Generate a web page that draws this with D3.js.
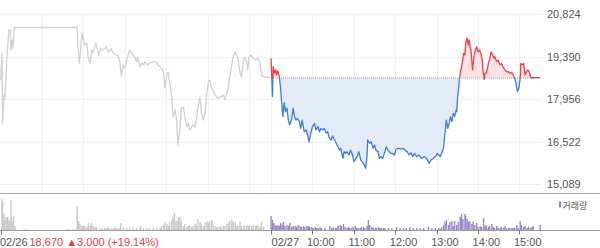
<!DOCTYPE html>
<html><head><meta charset="utf-8">
<script src="https://cdn.jsdelivr.net/npm/d3@7"></script>
<style>html,body{margin:0;padding:0;background:#fff;overflow:hidden}svg{display:block;font-family:"Liberation Sans",Arial,sans-serif}</style>
</head><body><svg id="c" width="600" height="248"></svg>
<script>
// ---- data ----
const prevClose = 18670;
const yTicks = [15089, 16522, 17956, 19390, 20824];
const timeTickLabels = ["10:00", "11:00", "12:00", "13:00", "14:00", "15:00"];
const dateLabels = ["02/26", "02/27"];
const priceText = "18,670 \u25B23,000 (+19.14%)";
const legendText = "거래량";

// minutes after 09:00, day 1 (02/26)
const day1Min = [0,2,3,5,6,9,12,14,15,17,18,20,111,112,114,116,118,120,122,125,127,130,132,134,138,142,145,149,153,156,160,163,167,170,173,175,178,180,184,187,190,192,195,197,199,202,204,207,209,213,216,221,225,228,232,236,238,241,243,245,248,250,253,255,257,260,262,265,267,270,272,274,277,279,282,284,286,289,291,294,296,299,301,303,306,308,311,313,315,318,320,323,325,328,330,332,335,337,340,342,344,347,349,352,354,357,358,360,363,366,370,373,376,378,381,386,390];
const day1Price = [18600,19510,17150,18100,17930,19270,20290,20290,19610,19950,19680,20370,20370,19720,19170,19610,20180,19950,19780,19850,19340,19170,19610,19510,19850,19440,19680,19610,19720,19540,19650,19510,19440,19440,19210,18740,19110,19010,19380,19610,19510,19440,19340,19210,19340,19040,19170,19110,19210,19110,19170,19210,19210,19110,19040,18870,18330,18770,18870,18500,18030,17350,17590,17250,16410,17020,17660,17690,17350,17020,17150,16920,17020,17090,17020,17320,17690,18030,17490,17250,17490,18160,18530,18600,18330,18260,18100,18030,17990,18030,18030,18100,17930,18160,18330,18700,19110,19380,19540,19440,19340,18840,18700,19270,19380,19170,18940,19380,19440,19340,19270,19340,19170,18770,18700,18700,18670];

// minutes after 09:00, day 2 (02/27)
const day2Min = [0,2,3,5,7,8,10,12,14,15,17,19,21,23,25,27,30,32,34,36,38,41,43,45,48,51,53,55,58,60,63,65,68,70,72,75,77,80,82,84,87,89,92,94,97,99,101,104,106,108,110,113,115,118,120,123,125,127,130,132,135,137,139,140,143,145,148,150,152,155,157,159,162,164,167,169,171,174,176,179,181,184,188,192,194,197,200,203,205,208,211,214,218,222,226,229,232,235,239,241,245,247,250,251,253,254,256,258,260,262,264,266,268,269,270,272,273,275,277,279,281,282,284,286,287,289,290,292,294,296,298,300,302,304,306,307,309,310,312,315,317,319,321,323,324,327,329,332,334,337,339,341,344,346,349,351,353,355,357,359,361,362,364,366,368,370,372,374,376,378,380,382,387,390];
const day2Price = [19330,18040,19050,18840,18940,18770,18910,18710,18260,17930,17370,17830,17530,17650,17250,17090,17310,17650,17370,17250,17310,17200,16970,17250,16860,16920,16750,16520,16860,17030,17140,16920,17030,16860,16970,16920,16970,16810,16860,16670,16580,16720,16580,16490,16350,16240,16300,15960,16190,16130,16190,16080,16240,16080,15850,15960,16040,16190,15910,15850,15740,15630,16020,16580,16470,16520,16300,16410,16240,16190,15960,16020,15960,16130,16350,16240,16190,16130,16130,16080,16270,16300,16270,16300,16240,16190,16080,16150,16020,16130,16020,16080,15960,16020,15930,15800,15910,15960,16040,16130,16020,16130,16300,16580,17030,17250,16970,17140,17370,17200,17480,17370,17590,17530,17930,18380,18660,18940,19160,19500,19440,19840,20010,19780,19950,19670,19500,18940,19390,19610,19720,19550,19610,19500,19270,18940,18620,18830,18830,19160,19330,19550,19440,19330,19390,19220,19270,19110,19160,19000,18940,18880,18880,18830,18850,18770,18660,18490,18210,18320,18660,19160,19110,19160,18770,18880,18940,18880,18710,18660,18690,18680,18680,18680];

// volume (thousand shares)
const vol1Min = [2,3,5,6,8,10,11,13,15,16,18,19,21,34,37,96,100,104,108,111,113,115,118,120,122,125,127,130,132,134,137,139,144,147,151,154,156,157,161,164,166,169,172,174,178,183,187,192,197,202,203,207,212,216,221,226,231,233,236,238,241,243,245,248,250,252,254,256,258,260,262,265,267,270,272,274,277,279,282,284,286,289,291,294,296,299,301,303,306,308,311,313,315,318,320,323,325,328,330,332,335,337,340,342,344,347,349,352,354,357,359,361,364,366,369,371,373,376,378,381];
const vol1 = [310,280,160,110,130,130,110,90,300,130,80,140,40,10,10,10,10,10,10,240,90,60,40,50,40,30,70,50,70,40,30,30,20,20,20,20,30,20,20,20,30,20,20,70,30,20,20,20,20,20,40,20,20,20,20,20,20,40,50,80,60,40,80,90,130,170,80,90,130,130,90,40,60,30,40,50,30,40,60,50,110,80,60,40,70,90,70,90,100,50,40,30,30,40,30,40,40,60,70,90,100,90,80,40,50,80,40,50,40,50,40,50,40,50,40,50,40,30,80,30];
const vol2Min = [0,2,4,6,8,10,12,14,16,18,20,23,25,27,30,32,35,37,39,42,44,47,49,52,54,56,59,61,64,66,68,71,73,78,85,88,90,93,95,97,100,102,105,107,110,112,114,117,119,122,124,126,129,131,134,136,139,141,143,146,148,151,153,156,158,160,163,165,170,175,182,187,192,196,201,206,211,216,221,228,233,238,243,245,247,250,252,254,257,259,262,264,266,269,271,274,276,278,281,282,284,286,288,291,293,295,298,300,303,305,308,310,312,315,317,320,322,324,327,329,332,334,337,339,341,344,346,349,351,353,356,358,361,363,366,368,371,373,376,378,380,390];
const vol2 = [140,100,70,50,40,50,40,70,50,80,40,50,40,70,30,40,40,30,50,40,30,40,30,40,40,30,30,20,30,20,20,30,20,20,40,20,30,20,20,40,50,40,60,30,20,30,20,20,30,40,20,20,20,30,30,20,40,100,50,30,20,20,20,30,20,20,20,20,20,20,30,20,20,20,30,20,20,20,20,30,20,20,20,10,30,50,80,100,50,80,90,40,90,50,80,130,160,110,160,140,110,80,90,60,80,50,70,30,40,30,120,40,50,30,40,60,30,20,40,20,20,30,20,40,20,20,20,20,20,20,50,20,90,50,30,40,20,30,20,30,40,50];

// ---- chart ----
const svg = d3.select('#c');
const DAY2 = 392;
const x = d3.scaleLinear().domain([0, 782]).range([0.6, 540.2]);
const y = d3.scaleLinear().domain([15089, 20824]).range([184.3, 14]);
const yv = d3.scaleLinear().domain([0, 320]).range([230, 198]);

const d1 = day1Min.map((m, i) => ({m: m, p: day1Price[i]}));
const d2 = day2Min.map((m, i) => ({m: m + DAY2, p: day2Price[i]}));

// grid
const grid = svg.append('g');
grid.selectAll('line.h').data(yTicks).enter().append('line')
  .attr('x1', 0).attr('x2', 541).attr('y1', d => Math.round(y(d)) + 0.5).attr('y2', d => Math.round(y(d)) + 0.5)
  .attr('stroke', '#efeff1').attr('stroke-width', 1);
const vGrid = [60,120,180,240,300,360, DAY2, DAY2+60, DAY2+120, DAY2+180, DAY2+240, DAY2+300, DAY2+360];
grid.selectAll('line.v').data(vGrid).enter().append('line')
  .attr('x1', d => Math.round(x(d)) + 0.5).attr('x2', d => Math.round(x(d)) + 0.5)
  .attr('y1', 14).attr('y2', 193)
  .attr('stroke', '#efeff1').attr('stroke-width', 1);

// clip paths above / below previous close
const baseY = y(prevClose);
const defs = svg.append('defs');
defs.append('clipPath').attr('id', 'above').append('rect').attr('x', 0).attr('y', 0).attr('width', 600).attr('height', baseY);
defs.append('clipPath').attr('id', 'below').append('rect').attr('x', 0).attr('y', baseY).attr('width', 600).attr('height', 248 - baseY);

const area = d3.area().x(d => x(d.m)).y0(baseY).y1(d => y(d.p));
const line = d3.line().x(d => x(d.m)).y(d => y(d.p));

svg.append('path').datum(d2).attr('d', area).attr('fill', '#fde3e6').attr('clip-path', 'url(#above)');
svg.append('path').datum(d2).attr('d', area).attr('fill', '#e3ebf9').attr('clip-path', 'url(#below)');

// previous day line
svg.append('path').datum(d1).attr('d', line).attr('fill', 'none').attr('stroke', '#d0d0d5').attr('stroke-width', 1.3).attr('stroke-linejoin', 'round');

// baseline dotted
svg.append('line').attr('x1', x(DAY2)).attr('x2', x(782)).attr('y1', baseY).attr('y2', baseY)
  .attr('stroke', '#8a8a8a').attr('stroke-width', 0.8).attr('stroke-dasharray', '1,1');

svg.append('path').datum(d2).attr('d', line).attr('fill', 'none').attr('stroke', '#f43d46').attr('stroke-width', 1.3).attr('stroke-linejoin', 'round').attr('clip-path', 'url(#above)');
svg.append('path').datum(d2).attr('d', line).attr('fill', 'none').attr('stroke', '#3a7ddc').attr('stroke-width', 1.3).attr('stroke-linejoin', 'round').attr('clip-path', 'url(#below)');

// separator lines
svg.append('line').attr('x1', 0).attr('x2', 600).attr('y1', 193.5).attr('y2', 193.5).attr('stroke', '#a8a8a8');
svg.append('line').attr('x1', 0).attr('x2', 600).attr('y1', 230.5).attr('y2', 230.5).attr('stroke', '#9a9a9a');

// volume
const v1 = vol1Min.map((m, i) => ({m: m, v: vol1[i]}));
const v2 = vol2Min.map((m, i) => ({m: m + DAY2, v: vol2[i]}));
svg.append('g').selectAll('rect').data(v1).enter().append('rect')
  .attr('x', d => x(d.m) - 0.7).attr('width', 1.4).attr('y', d => yv(d.v)).attr('height', d => 230 - yv(d.v))
  .attr('fill', '#c9c9cd');
svg.append('g').selectAll('rect').data(v2).enter().append('rect')
  .attr('x', d => x(d.m) - 0.7).attr('width', 1.4).attr('y', d => yv(d.v)).attr('height', d => 230 - yv(d.v))
  .attr('fill', '#9a85c8');

// right axis
const ay = d3.axisRight(y).tickValues(yTicks).tickSize(0).tickPadding(6).tickFormat(d3.format(','));
const gy = svg.append('g').attr('transform', 'translate(541,0)').call(ay);
gy.select('.domain').remove();
gy.selectAll('text').attr('fill', '#555').style('font-size', '11px').style('font-family', '"Liberation Sans", Arial, sans-serif');

// bottom ticks & labels
const tickMins = [0, DAY2, DAY2+60, DAY2+120, DAY2+180, DAY2+240, DAY2+300, DAY2+360];
svg.append('g').selectAll('line').data(tickMins).enter().append('line')
  .attr('x1', d => Math.round(x(d)) + 0.5).attr('x2', d => Math.round(x(d)) + 0.5)
  .attr('y1', 230).attr('y2', 234.5).attr('stroke', '#777');

const lab = svg.append('g').style('font-size', '11px').attr('fill', '#555');
lab.append('text').attr('x', 0).attr('y', 246).text(dateLabels[0]);
lab.append('text').attr('x', x(DAY2) + 0.5).attr('y', 246).text(dateLabels[1]);
lab.selectAll('text.t').data(timeTickLabels).enter().append('text')
  .attr('x', (d, i) => x(DAY2 + 60 * (i + 1)) - 5.5).attr('y', 246).text(d => d);
svg.append('text').attr('x', 29.5).attr('y', 246).attr('fill', '#f23b42').style('font-size', '11px').text(priceText);

// legend
svg.append('rect').attr('x', 559).attr('y', 201.5).attr('width', 2).attr('height', 6).attr('fill', '#9a85c8');
svg.append('text').attr('x', 562.5).attr('y', 208.5).attr('fill', '#555')
  .style('font-size', '9px').style('font-family', '"Noto Sans CJK KR", sans-serif').text(legendText);
</script></body></html>
